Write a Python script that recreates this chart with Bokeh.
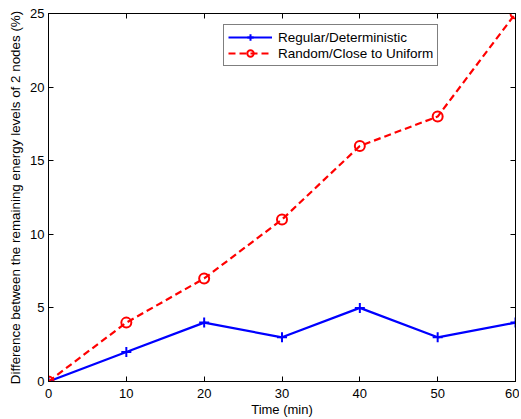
from bokeh.plotting import figure
from bokeh.models import LinearAxis, FixedTicker, Range1d, Legend, LegendItem
from bokeh.embed import file_html
from bokeh.resources import INLINE

time_min = [0, 10, 20, 30, 40, 50, 60]
regular = [0, 2, 4, 3, 5, 3, 4]
random_uniform = [0, 4, 7, 11, 16, 18, 25]
x_ticks = [0, 10, 20, 30, 40, 50, 60]
y_ticks = [0, 5, 10, 15, 20, 25]

FONT = "Liberation Sans"

p = figure(frame_width=467, frame_height=368, output_backend="svg",
           toolbar_location=None, x_range=Range1d(0, 60), y_range=Range1d(0, 25))
p.min_border_top = 13
p.min_border_right = 4
p.min_border_left = 48
p.min_border_bottom = 0
p.background_fill_color = "white"
p.border_fill_color = "white"
p.outline_line_color = "black"
p.outline_line_width = 1
p.xgrid.visible = False
p.ygrid.visible = False

for ax, ticks in ((p.xaxis[0], x_ticks), (p.yaxis[0], y_ticks)):
    ax.ticker = FixedTicker(ticks=ticks)
    ax.major_tick_in = 5
    ax.major_tick_out = 0
    ax.minor_tick_in = 0
    ax.minor_tick_out = 0
    ax.axis_line_color = "black"
    ax.major_tick_line_color = "black"
    ax.major_label_text_font = FONT
    ax.major_label_text_font_size = "13px"
    ax.major_label_text_color = "black"
    ax.axis_label_text_font = FONT
    ax.axis_label_text_font_style = "normal"
    ax.axis_label_text_color = "black"

p.xaxis[0].axis_label = "Time (min)"
p.xaxis[0].axis_label_text_font_size = "13px"
p.xaxis[0].major_label_standoff = 7
p.xaxis[0].axis_label_standoff = 1
p.yaxis[0].axis_label = "Difference between the remaining energy levels of 2 nodes (%)"
p.yaxis[0].axis_label_text_font_size = "13.4px"
p.yaxis[0].major_label_standoff = 4
p.yaxis[0].axis_label_standoff = 4

for loc, ticks in (("above", x_ticks), ("right", y_ticks)):
    ax = LinearAxis(ticker=FixedTicker(ticks=ticks), major_tick_in=5, major_tick_out=0,
                    minor_tick_in=0, minor_tick_out=0, major_label_text_font_size="0px",
                    major_label_standoff=0, axis_line_color="black")
    ax.major_label_text_color = None
    p.add_layout(ax, loc)

r1 = p.line(time_min, regular, line_color="#0000ff", line_width=2.2)
m1 = p.scatter(time_min, regular, marker="cross", size=10, line_color="#0000ff", line_width=2)
r2 = p.line(time_min, random_uniform, line_color="#ff0000", line_width=2.2, line_dash="7 4")
m2 = p.scatter(time_min, random_uniform, marker="circle", size=10, fill_color=None,
               line_color="#ff0000", line_width=2)

legend = Legend(items=[
    LegendItem(label="Regular/Deterministic", renderers=[r1, m1]),
    LegendItem(label="Random/Close to Uniform", renderers=[r2, m2]),
], location=(175, 315))
legend.label_text_font = FONT
legend.label_text_font_size = "13.5px"
legend.label_text_color = "black"
legend.glyph_width = 44
legend.glyph_height = 16
legend.label_height = 16
legend.label_standoff = 6
legend.spacing = 0
legend.padding = 4
legend.margin = 0
legend.border_line_color = "black"
legend.border_line_width = 1
legend.background_fill_color = "white"
legend.background_fill_alpha = 1
p.add_layout(legend, "center")

open("out.html", "w").write(file_html(p, INLINE))
